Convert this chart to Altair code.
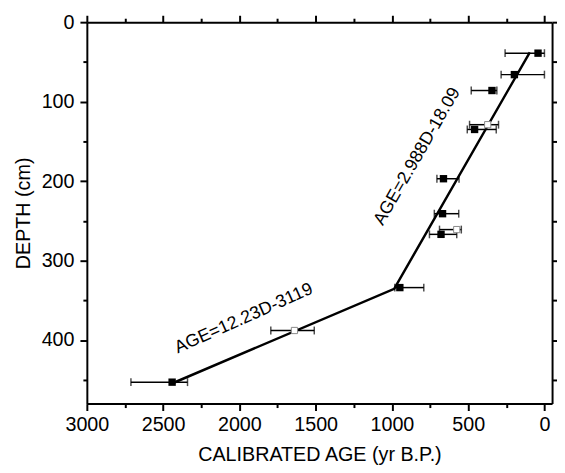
import altair as alt
import pandas as pd

FONT = "Liberation Sans"

# Filled squares (radiocarbon dates used in the model)
f_age = [42, 197, 344, 458, 662, 668, 678, 948, 2441]
f_depth = [39, 66, 86, 135, 197, 241, 267, 334, 453]
f_lo = [0, 0, 312, 316, 560, 562, 575, 791, 2340]
f_hi = [258, 284, 480, 506, 705, 722, 754, 981, 2711]

# Open squares
o_age = [372, 575, 1639]
o_depth = [129, 261, 388]
o_lo = [301, 545, 1509]
o_hi = [491, 688, 1794]

# Age-depth model (two linear segments)
fit_age = [96, 985, 2446]
fit_depth = [38, 335.5, 455]

# Equation labels
eq_text = ["AGE=2.988D-18.09", "AGE=12.23D-3119"]
eq_age = [834, 1971]
eq_depth = [169, 373]

x_major = [0, 500, 1000, 1500, 2000, 2500, 3000]
x_minor = [250, 750, 1250, 1750, 2250, 2750]
y_major = [0, 100, 200, 300, 400]
y_minor = [50, 150, 250, 350, 450]
y_all = [0, 50, 100, 150, 200, 250, 300, 350, 400, 450]

pts = pd.DataFrame({
    "age": f_age + o_age,
    "depth": f_depth + o_depth,
    "lo": f_lo + o_lo,
    "hi": f_hi + o_hi,
    "kind": ["filled"] * len(f_age) + ["open"] * len(o_age),
})
filled = pts[pts.kind == "filled"]
opened = pts[pts.kind == "open"]
caps = pd.DataFrame({
    "val": list(pts["lo"]) + list(pts["hi"]),
    "depth": list(pts["depth"]) * 2,
})
fit = pd.DataFrame({"age": fit_age, "depth": fit_depth})
eq = pd.DataFrame({"txt": eq_text, "age": eq_age, "depth": eq_depth})

xs = alt.Scale(domain=[-50, 3000], reverse=True, nice=False, zero=False)
ys = alt.Scale(domain=[0, 480], reverse=True, nice=False, zero=False)

common = dict(grid=False, tickColor="black", domainColor="black",
              tickWidth=2, domainWidth=2, labelColor="black",
              labelFont=FONT, titleFont=FONT, titleColor="black",
              titleFontWeight="normal")

ax_bottom = alt.Axis(orient="bottom", values=x_major, tickSize=7, format="d",
                     labelFontSize=20, labelPadding=4, labelFlush=False,
                     titleFontSize=20, titlePadding=11, **common)
ax_bottom_min = alt.Axis(orient="bottom", values=x_minor, tickSize=4,
                         labels=False, domain=False, title="", **common)
ax_top = alt.Axis(orient="top", values=x_major, tickSize=7,
                  labels=False, title="", **common)
ax_top_min = alt.Axis(orient="top", values=x_minor, tickSize=4,
                      labels=False, domain=False, title="", **common)
ax_left = alt.Axis(orient="left", values=y_major, tickSize=7, format="d",
                   labelFontSize=20, labelPadding=6, labelFlush=False,
                   titleFontSize=20, titlePadding=8, **common)
ax_left_min = alt.Axis(orient="left", values=y_minor, tickSize=4,
                       labels=False, domain=False, title="", **common)
ax_right = alt.Axis(orient="right", values=y_all, tickSize=5,
                    labels=False, title="", **common)

bars = alt.Chart(pts).mark_rule(color="black", strokeWidth=1.5).encode(
    x=alt.X("lo:Q", scale=xs, axis=ax_bottom, title="CALIBRATED AGE (yr B.P.)"),
    x2="hi:Q",
    y=alt.Y("depth:Q", scale=ys, axis=ax_left, title="DEPTH (cm)"),
)

cap = alt.Chart(caps).mark_tick(color="black", orient="vertical",
                                size=8, thickness=1.5).encode(
    x=alt.X("val:Q", scale=xs, axis=ax_bottom_min),
    y=alt.Y("depth:Q", scale=ys, axis=ax_left_min),
)

line = alt.Chart(fit).mark_line(color="black", strokeWidth=2.5).encode(
    x=alt.X("age:Q", scale=xs, axis=ax_top),
    y=alt.Y("depth:Q", scale=ys, axis=ax_right),
    order="depth:Q",
)

sq_f = alt.Chart(filled).mark_square(color="black", opacity=1, size=56).encode(
    x=alt.X("age:Q", scale=xs, axis=ax_top_min),
    y=alt.Y("depth:Q", scale=ys, axis=None),
)

sq_o = alt.Chart(opened).mark_square(fill="white", stroke="#888888",
                                     strokeWidth=1, opacity=1, size=40).encode(
    x=alt.X("age:Q", scale=xs, axis=None),
    y=alt.Y("depth:Q", scale=ys, axis=None),
)

t1 = alt.Chart(eq.iloc[[0]]).mark_text(font=FONT, fontSize=18, color="black",
                                       angle=300, align="center",
                                       baseline="middle").encode(
    x=alt.X("age:Q", scale=xs, axis=None),
    y=alt.Y("depth:Q", scale=ys, axis=None),
    text="txt:N",
)
t2 = alt.Chart(eq.iloc[[1]]).mark_text(font=FONT, fontSize=18, color="black",
                                       angle=336, align="center",
                                       baseline="middle").encode(
    x=alt.X("age:Q", scale=xs, axis=None),
    y=alt.Y("depth:Q", scale=ys, axis=None),
    text="txt:N",
)

chart = alt.layer(bars, cap, line, sq_f, sq_o, t1, t2).resolve_axis(
    x="independent", y="independent"
).properties(
    width=472, height=387,
    autosize=alt.AutoSizeParams(type="none"),
    padding={"left": 80, "top": 11, "right": 5, "bottom": 66},
    background="white",
).configure_view(stroke=None)

chart.save("out.html", embed_options={"renderer": "svg", "actions": False})
